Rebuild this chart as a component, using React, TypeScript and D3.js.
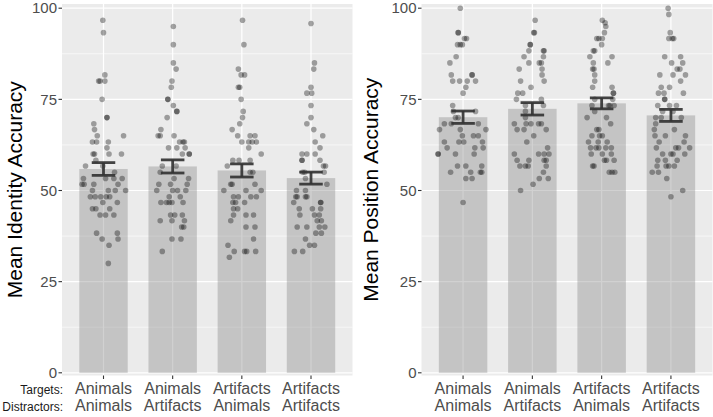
import React from 'react';
import * as d3 from 'd3';

// conditions (targets / distractors)
const targets = ['Animals', 'Animals', 'Artifacts', 'Artifacts'];
const distractors = ['Animals', 'Artifacts', 'Animals', 'Artifacts'];
const conditions = ['AA', 'AR', 'RA', 'RR'];
const yTicks = [0, 25, 50, 75, 100];
const yMinor = [12.5, 37.5, 62.5, 87.5];

// bar means and standard errors
const identityMeans = [55.9, 56.6, 55.5, 53.4];
const identitySE = [1.75, 1.8, 1.8, 1.65];
const positionMeans = [70.1, 72.4, 73.9, 70.6];
const positionSE = [1.7, 1.7, 1.5, 1.65];

// participant points: [accuracy, jitter as fraction of band step]
const identityAA = [[96.7,-0.01],[93.3,0],[81.7,0.02],[80,-0.07],[80,-0.05],[80,0.02],[75,-0.02],[70,0.05],[70,0.05],[68.3,-0.14],[66.7,-0.13],[65,-0.09],[65,0.29],[63.3,-0.16],[63.3,-0.1],[63.3,0.07],[61.7,0.05],[60,-0.15],[60,-0.13],[60,0.08],[60,0.26],[58.3,-0.11],[56.7,-0.26],[56.7,-0.01],[55,0.16],[53.3,-0.29],[53.3,0.03],[53.3,0.15],[53.3,0.27],[51.7,-0.31],[51.7,-0.28],[51.7,-0.14],[51.7,0.21],[50,-0.16],[50,0.07],[50,0.17],[50,0.32],[48.3,-0.19],[48.3,-0.12],[48.3,-0.04],[48.3,0.04],[48.3,0.09],[46.7,-0.01],[46.7,0.2],[45,-0.16],[45,-0.11],[45,0.09],[43.3,-0.05],[43.3,0.03],[43.3,0.15],[38.3,-0.1],[38.3,0.2],[36.7,-0.02],[36.7,0.21],[35,0.08],[30,0.07]];
const identityAR = [[95,0.01],[90,0.01],[85,0.01],[83.3,0.05],[80,-0.01],[78.3,-0.02],[75,-0.07],[75,-0.07],[73.3,0.01],[71.7,0.06],[71.7,0.06],[70,-0.08],[66.7,-0.17],[65,-0.21],[65,-0.18],[65,0.02],[63.3,0.1],[63.3,0.17],[63.3,0.15],[61.7,-0.06],[61.7,0.06],[61.7,0.18],[60,0.14],[60,0.24],[60,0.24],[56.7,0.05],[56.7,-0.15],[55,-0.18],[53.3,0.02],[53.3,0.23],[51.7,-0.2],[51.7,-0.03],[51.7,0.21],[50,-0.23],[50,0],[50,0.07],[50,0.19],[48.3,-0.05],[48.3,0.11],[46.7,-0.17],[46.7,-0.09],[46.7,-0.05],[46.7,-0.01],[46.7,0.15],[43.3,-0.03],[43.3,0.03],[43.3,0.14],[41.7,-0.18],[41.7,-0.01],[41.7,0.17],[40,0.13],[40,0.16],[36.7,-0.01],[36.7,0.12],[33.3,-0.15]];
const identityRA = [[96.7,0.01],[90,0.03],[83.3,-0.05],[81.7,-0.01],[81.7,0.04],[78.3,-0.05],[78.3,-0.03],[75,-0.01],[71.7,0.02],[70,0.01],[68.3,-0.03],[66.7,-0.14],[65,-0.06],[65,0.12],[65,0.19],[63.3,0],[63.3,0.1],[63.3,0.15],[63.3,0.21],[61.7,0.1],[60,0.28],[58.3,-0.13],[58.3,-0.04],[58.3,0.12],[56.7,-0.21],[55,0.12],[55,0.16],[51.7,-0.16],[51.7,-0.14],[51.7,0.19],[50,-0.26],[50,0.06],[50,0.28],[48.3,-0.12],[48.3,-0.05],[48.3,0.13],[48.3,0.21],[46.7,-0.13],[46.7,-0.09],[46.7,0.04],[45,-0.12],[45,-0.06],[43.3,-0.12],[43.3,0.06],[43.3,0.17],[41.7,-0.16],[40,0.06],[40,0.19],[36.7,0.17],[35,-0.2],[33.3,-0.11],[33.3,0.04],[33.3,0.07],[33.3,0.2],[31.7,-0.18]];
const identityRR = [[95.8,0],[85,0.05],[83.3,0.04],[78.3,0],[76.7,-0.06],[76.7,0.01],[73.3,0],[70,0],[68.3,-0.06],[66.7,0.04],[65,0.17],[63.3,0.06],[61.7,0.13],[60,-0.13],[60,-0.06],[60,0.06],[58.3,-0.13],[58.3,-0.13],[58.3,0.13],[56.7,0.18],[56.7,0.21],[55,-0.12],[55,-0.09],[55,0.19],[53.3,-0.08],[51.7,0.23],[50,-0.21],[50,-0.08],[48.3,-0.22],[48.3,-0.2],[48.3,-0.08],[48.3,-0.06],[46.7,-0.25],[46.7,0.14],[46.7,0.14],[45,-0.17],[45,0.02],[45,0.14],[43.3,-0.16],[43.3,0.05],[43.3,0.12],[41.7,0.09],[41.7,0.15],[40,-0.2],[40,-0.06],[40,0.12],[40,0.2],[38.3,0.07],[38.3,0.15],[36.7,-0.08],[35,-0.02],[35,0.05],[33.3,-0.24],[33.3,-0.12]];

const positionAA = [[100,-0.04],[93.3,-0.07],[93.3,-0.07],[91.7,0.02],[91.7,0.05],[90,-0.08],[90,-0.04],[90,-0.01],[86.7,-0.1],[85,-0.19],[81.7,-0.17],[81.7,0.13],[81.7,0.13],[80,-0.15],[80,-0.05],[80,0.06],[80,0.18],[78.3,0.04],[76.7,0],[73.3,-0.15],[71.7,-0.14],[71.7,0.18],[70,-0.11],[70,-0.07],[68.3,-0.27],[68.3,-0.17],[68.3,0.22],[66.7,-0.34],[66.7,-0.04],[66.7,0.33],[65,-0.01],[65,0.15],[65,0.22],[63.3,-0.27],[63.3,-0.06],[63.3,0.01],[63.3,0.28],[61.7,-0.23],[61.7,0.17],[61.7,0.29],[60,-0.36],[60,-0.36],[60,-0.11],[60,0.16],[56.7,-0.08],[56.7,0.04],[56.7,0.27],[55,-0.18],[55,0.11],[55,0.25],[55,0.27],[53.3,0.04],[53.3,0.13],[46.7,0]];
const positionAR = [[96.7,0.04],[93.3,0.02],[93.3,0.03],[90,-0.03],[90,-0.03],[88.3,-0.05],[88.3,0.16],[88.3,0.17],[86.7,-0.12],[86.7,0.16],[85,-0.05],[85,0.1],[85,0.13],[83.3,-0.19],[83.3,0.14],[81.7,0.14],[80,-0.17],[80,0.17],[78.3,-0.02],[76.7,-0.21],[76.7,-0.14],[75,-0.23],[75,0.13],[73.3,-0.1],[73.3,0.16],[71.7,-0.1],[70,-0.1],[68.3,-0.26],[68.3,-0.09],[68.3,-0.02],[68.3,0.09],[68.3,0.13],[66.7,-0.22],[66.7,-0.12],[66.7,0.2],[65,0.02],[63.3,-0.08],[61.7,0.22],[60,-0.26],[60,0.09],[60,0.17],[60,0.24],[58.3,-0.22],[58.3,-0.05],[58.3,0.17],[58.3,0.2],[56.7,-0.18],[56.7,-0.1],[56.7,-0.06],[56.7,0.2],[55,0.16],[53.3,0.1],[53.3,0.23],[51.7,0.01],[50,-0.17]];
const positionRA = [[96.7,0.01],[96,0.05],[95,0.06],[93.3,0.04],[91.7,-0.07],[91.7,-0.04],[91.7,0.01],[90,0],[88.3,-0.12],[88.3,-0.1],[86.7,-0.17],[86.7,0.15],[85,-0.12],[85,0.09],[83.3,-0.13],[83.3,-0.11],[81.7,-0.1],[80,-0.1],[78.3,-0.13],[78.3,0.15],[76.7,0.17],[76.7,0.17],[75,-0.1],[75,0.16],[73.3,-0.14],[73.3,0.1],[73.3,0.12],[73.3,0.18],[71.7,-0.1],[70,-0.21],[70,0.07],[68.3,0.13],[66.7,-0.07],[66.7,-0.04],[65,-0.14],[65,-0.03],[65,0.01],[63.3,-0.19],[63.3,-0.05],[63.3,0.08],[61.7,-0.16],[61.7,-0.08],[61.7,-0.04],[61.7,0.06],[61.7,0.14],[60,-0.15],[60,0.01],[60,0.14],[58.3,0.04],[58.3,0.07],[58.3,0.18],[56.7,-0.13],[56.7,-0.11],[55,0.11],[55,0.15],[55,0.19]];
const positionRR = [[100,-0.04],[98.3,-0.03],[93.3,-0.01],[91.7,-0.03],[91.7,0.02],[91.7,0.04],[86.7,-0.09],[86.7,0.14],[85,0.01],[85,0.17],[83.3,0.09],[83.3,0.13],[81.7,-0.16],[81.7,0.03],[81.7,0.21],[80,0.14],[78.3,-0.14],[78.3,-0.02],[76.7,-0.18],[76.7,-0.1],[76.7,0.18],[75,-0.09],[75,-0.09],[73.3,-0.19],[73.3,-0.02],[73.3,0.08],[71.7,-0.12],[71.7,0.03],[70,-0.22],[70,-0.14],[70,0.15],[68.3,-0.22],[66.7,-0.24],[66.7,0.05],[65,-0.23],[65,-0.08],[65,0.21],[63.3,-0.17],[63.3,0.19],[61.7,-0.21],[61.7,0.07],[61.7,0.11],[61.7,0.27],[60,-0.12],[60,0],[60,0.03],[60,0.2],[58.3,-0.19],[58.3,-0.08],[58.3,0.09],[56.7,-0.2],[56.7,-0.07],[56.7,-0.03],[56.7,0.05],[55,-0.27],[55,-0.18],[53.3,-0.06],[50,0.17],[48.3,0]];

const W = 713;
const H = 417;
const FONT = '"Liberation Sans", Arial, Helvetica, sans-serif';

const y = d3.scaleLinear().domain([0, 100]).range([372.8, 8.2]);
const panelTop = 4;
const panelBottom = 375.5;

type PanelProps = {
  x0: number;
  x1: number;
  titleX: number;
  title: string;
  means: number[];
  se: number[];
  points: number[][][];
};

const Panel = ({ x0, x1, titleX, title, means, se, points }: PanelProps) => {
  const x = d3.scalePoint<string>().domain(conditions).range([x0, x1]).padding(0.6);
  const step = x.step();
  const barW = step * 0.7;
  const capW = step * 0.34;
  const midY = (panelTop + panelBottom) / 2;

  return (
    <g>
      <rect x={x0} y={panelTop} width={x1 - x0} height={panelBottom - panelTop} fill="#ebebeb" />
      {yMinor.map(t => (
        <line key={'mn' + t} x1={x0} x2={x1} y1={y(t)} y2={y(t)} stroke="#fff" strokeWidth={0.6} />
      ))}
      {yTicks.map(t => (
        <line key={'mj' + t} x1={x0} x2={x1} y1={y(t)} y2={y(t)} stroke="#fff" strokeWidth={1.2} />
      ))}
      {conditions.map(c => (
        <line key={'v' + c} x1={x(c)} x2={x(c)} y1={panelTop} y2={panelBottom} stroke="#fff" strokeWidth={1.2} />
      ))}

      {conditions.map((c, i) => (
        <rect key={'b' + c} x={x(c)! - barW / 2} y={y(means[i])} width={barW}
          height={y(0) - y(means[i])} fill="#7f7f7f" fillOpacity={0.36} />
      ))}

      {conditions.map((c, i) =>
        points[i].map((p, j) => (
          <circle key={c + j} cx={x(c)! + p[1] * step} cy={y(p[0])} r={2.8}
            fill="#000" fillOpacity={0.34} />
        ))
      )}

      {conditions.map((c, i) => {
        const cx = x(c)!;
        const lo = y(means[i] - se[i]);
        const hi = y(means[i] + se[i]);
        return (
          <g key={'e' + c} stroke="#333" strokeWidth={2.8} strokeOpacity={0.92}>
            <line x1={cx} x2={cx} y1={lo} y2={hi} />
            <line x1={cx - capW / 2} x2={cx + capW / 2} y1={lo} y2={lo} />
            <line x1={cx - capW / 2} x2={cx + capW / 2} y1={hi} y2={hi} />
          </g>
        );
      })}

      {/* y axis */}
      {yTicks.map(t => (
        <g key={'yt' + t}>
          <line x1={x0 - 3.5} x2={x0} y1={y(t)} y2={y(t)} stroke="#333" strokeWidth={1.1} />
          <text x={x0 - 5} y={y(t)} dy="0.35em" textAnchor="end" fontSize={15} fill="#4d4d4d">{t}</text>
        </g>
      ))}
      <text transform={`translate(${titleX},${midY}) rotate(-90)`} textAnchor="middle"
        fontSize={21} fill="#000">{title}</text>

      {/* x axis */}
      {conditions.map((c, i) => (
        <g key={'xt' + c}>
          <line x1={x(c)} x2={x(c)} y1={panelBottom} y2={panelBottom + 3.5} stroke="#333" strokeWidth={1.1} />
          <text x={x(c)} y={393.5} textAnchor="middle" fontSize={16} fill="#4d4d4d">{targets[i]}</text>
          <text x={x(c)} y={410.5} textAnchor="middle" fontSize={16} fill="#4d4d4d">{distractors[i]}</text>
        </g>
      ))}
    </g>
  );
};

export default function App() {
  return (
    <svg width={W} height={H} style={{ position: 'absolute', left: 0, top: 0, background: '#fff' }}
      fontFamily={FONT}>
      <Panel x0={62} x1={352.5} titleX={22} title="Mean Identity Accuracy"
        means={identityMeans} se={identitySE}
        points={[identityAA, identityAR, identityRA, identityRR]} />
      <Panel x0={421.5} x1={712.5} titleX={378} title="Mean Position Accuracy"
        means={positionMeans} se={positionSE}
        points={[positionAA, positionAR, positionRA, positionRR]} />
      <text x={63} y={393.5} textAnchor="end" fontSize={12} fill="#1a1a1a">Targets:</text>
      <text x={63} y={410.5} textAnchor="end" fontSize={12} fill="#1a1a1a">Distractors:</text>
    </svg>
  );
}
